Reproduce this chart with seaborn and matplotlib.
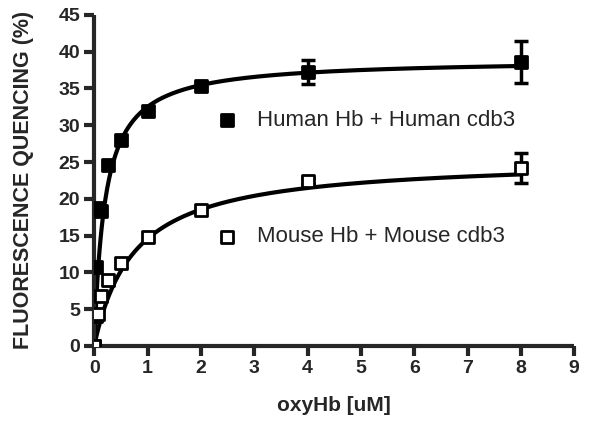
import matplotlib
matplotlib.use("Agg")
from matplotlib import pyplot as plt
import seaborn as sns
import numpy as np
import pandas as pd

# data
conc = [0, 0.03125, 0.0625, 0.125, 0.25, 0.5, 1, 2, 4, 8]
human = [0, 10.8, 18.8, 18.4, 24.6, 28.0, 31.9, 35.3, 37.2, 38.6]
mouse = [0, 4.1, 4.3, 6.8, 9.0, 11.3, 14.8, 18.5, 22.4, 24.2]
# error bars only shown where visible
err_x = [4, 8]
human_err_y = [37.2, 38.6]
human_err = [1.6, 2.9]
mouse_err_y = [22.4, 24.2]
mouse_err = [0.4, 2.0]

# one-site binding fit parameters (Bmax, Kd)
human_fit = (39.0, 0.2)
mouse_fit = (25.5, 0.75)

x_ticks = list(range(0, 10))
y_ticks = list(range(0, 50, 5))

sns.set_style("ticks")
plt.rcParams['font.family'] = ['Liberation Sans', 'DejaVu Sans']

fig = plt.figure(figsize=(6, 4.24), dpi=100)
ax = fig.add_axes([0.157, 0.184, 0.8, 0.781])

xs = np.linspace(0, 8, 400)
fits = pd.concat([
    pd.DataFrame({'x': xs, 'y': human_fit[0] * xs / (human_fit[1] + xs), 'set': 'h'}),
    pd.DataFrame({'x': xs, 'y': mouse_fit[0] * xs / (mouse_fit[1] + xs), 'set': 'm'}),
])
sns.lineplot(data=fits, x='x', y='y', units='set', estimator=None, color='black',
             linewidth=3, ax=ax, legend=False)

ax.errorbar(err_x, human_err_y, yerr=human_err, fmt='none', ecolor='black', elinewidth=2.5,
            capsize=5, capthick=2.5, zorder=3)
ax.errorbar(err_x, mouse_err_y, yerr=mouse_err, fmt='none', ecolor='black', elinewidth=2.5,
            capsize=5, capthick=2.5, zorder=3)

sns.scatterplot(x=conc, y=human, marker='s', s=70, color='black', edgecolor='black',
                linewidth=2, ax=ax, zorder=4, label='Human Hb + Human cdb3')
sns.scatterplot(x=conc, y=mouse, marker='s', s=70, color='white', edgecolor='black',
                linewidth=2, ax=ax, zorder=4, label='Mouse Hb + Mouse cdb3')

ax.set_xlim(0, 9)
ax.set_ylim(0, 45)
ax.set_xticks(x_ticks, labels=[str(v) for v in x_ticks], fontsize=14, fontweight='bold')
ax.set_yticks(y_ticks, labels=[str(v) for v in y_ticks], fontsize=14, fontweight='bold')
ax.set_xlabel('oxyHb [uM]', fontsize=15, fontweight='bold', labelpad=14)
ax.set_ylabel('FLUORESCENCE QUENCING (%)', fontsize=15.5, fontweight='bold', labelpad=18)
ax.tick_params(width=3, length=7, direction='out', pad=3)

sns.despine(ax=ax)
for side in ['left', 'bottom']:
    ax.spines[side].set_linewidth(3)
    ax.spines[side].set_capstyle('butt')

ax.legend(loc='upper left', bbox_to_anchor=(0.235, 0.74), frameon=False,
          fontsize=16, labelspacing=4.3, handlelength=1.0, handletextpad=0.85,
          borderaxespad=0)

fig.savefig('out.png', dpi=100)
